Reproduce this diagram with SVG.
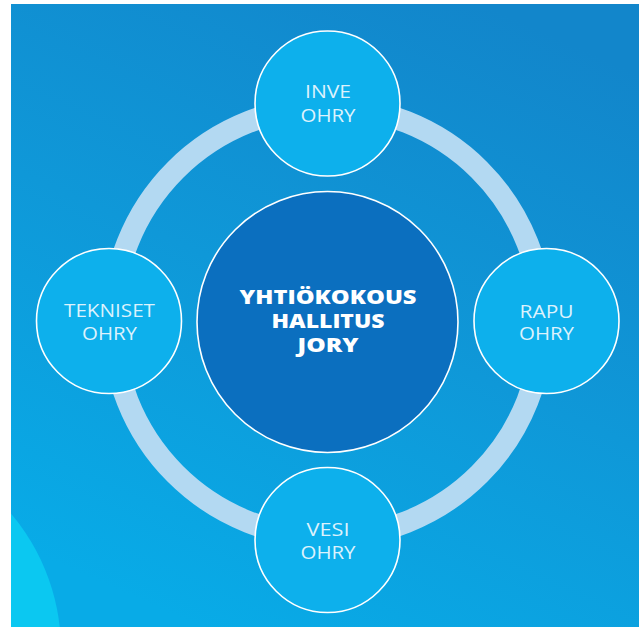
<svg xmlns="http://www.w3.org/2000/svg" width="639" height="627" viewBox="0 0 639 627">
  <defs>
    <linearGradient id="bg" x1="0.75" y1="0" x2="0.3" y2="1">
      <stop offset="0" stop-color="#1286cb"/>
      <stop offset="0.5" stop-color="#0f98d8"/>
      <stop offset="1" stop-color="#08abe7"/>
    </linearGradient>
    <clipPath id="bgclip"><rect x="11" y="4" width="628" height="623"/></clipPath>
  </defs>
  <style>
    .node { fill: #0db0ec; stroke: #ffffff; stroke-width: 1.6; }
    .hub { fill: #0b6fbf; stroke: #ffffff; stroke-width: 1.6; }
    .lbl { font-family: "Open Sans", "Liberation Sans", sans-serif; font-weight: 400; font-size: 18px; fill: #dcf2fd; text-anchor: middle; }
    .hublbl { font-family: "Open Sans", "Liberation Sans", sans-serif; font-weight: 800; font-size: 20px; fill: #ffffff; text-anchor: middle; }
  </style>
  <rect width="639" height="627" fill="#ffffff"/>
  <g clip-path="url(#bgclip)">
    <rect x="11" y="4" width="628" height="623" fill="url(#bg)"/>
    <circle cx="-150" cy="650" r="211" fill="#0bc8f1"/>
  </g>
  <g id="connectors">
    <circle cx="327.5" cy="322" r="215" fill="none" stroke="#b3d9f2" stroke-width="22"/>
  </g>
  <g id="hub">
    <circle class="hub" cx="327.5" cy="322" r="130.5"/>
    <text class="hublbl" x="328" y="304" textLength="177" lengthAdjust="spacingAndGlyphs">YHTIÖKOKOUS</text>
    <text class="hublbl" x="328" y="328" textLength="113" lengthAdjust="spacingAndGlyphs">HALLITUS</text>
    <text class="hublbl" x="328" y="352" textLength="61" lengthAdjust="spacingAndGlyphs">JORY</text>
  </g>
  <g id="inve">
    <circle class="node" cx="327.5" cy="103.5" r="72.5"/>
    <text class="lbl" x="328" y="98" textLength="46" lengthAdjust="spacingAndGlyphs">INVE</text>
    <text class="lbl" x="328" y="121.5" textLength="55" lengthAdjust="spacingAndGlyphs">OHRY</text>
  </g>
  <g id="tekniset">
    <circle class="node" cx="109" cy="321" r="72.5"/>
    <text class="lbl" x="109.5" y="317" textLength="91" lengthAdjust="spacingAndGlyphs">TEKNISET</text>
    <text class="lbl" x="109.5" y="340" textLength="55" lengthAdjust="spacingAndGlyphs">OHRY</text>
  </g>
  <g id="rapu">
    <circle class="node" cx="546.5" cy="321" r="72.5"/>
    <text class="lbl" x="546.5" y="317.5" textLength="54" lengthAdjust="spacingAndGlyphs">RAPU</text>
    <text class="lbl" x="546.5" y="340" textLength="55" lengthAdjust="spacingAndGlyphs">OHRY</text>
  </g>
  <g id="vesi">
    <circle class="node" cx="327.5" cy="540" r="72.5"/>
    <text class="lbl" x="328" y="536" textLength="43" lengthAdjust="spacingAndGlyphs">VESI</text>
    <text class="lbl" x="328" y="559" textLength="55" lengthAdjust="spacingAndGlyphs">OHRY</text>
  </g>
</svg>
